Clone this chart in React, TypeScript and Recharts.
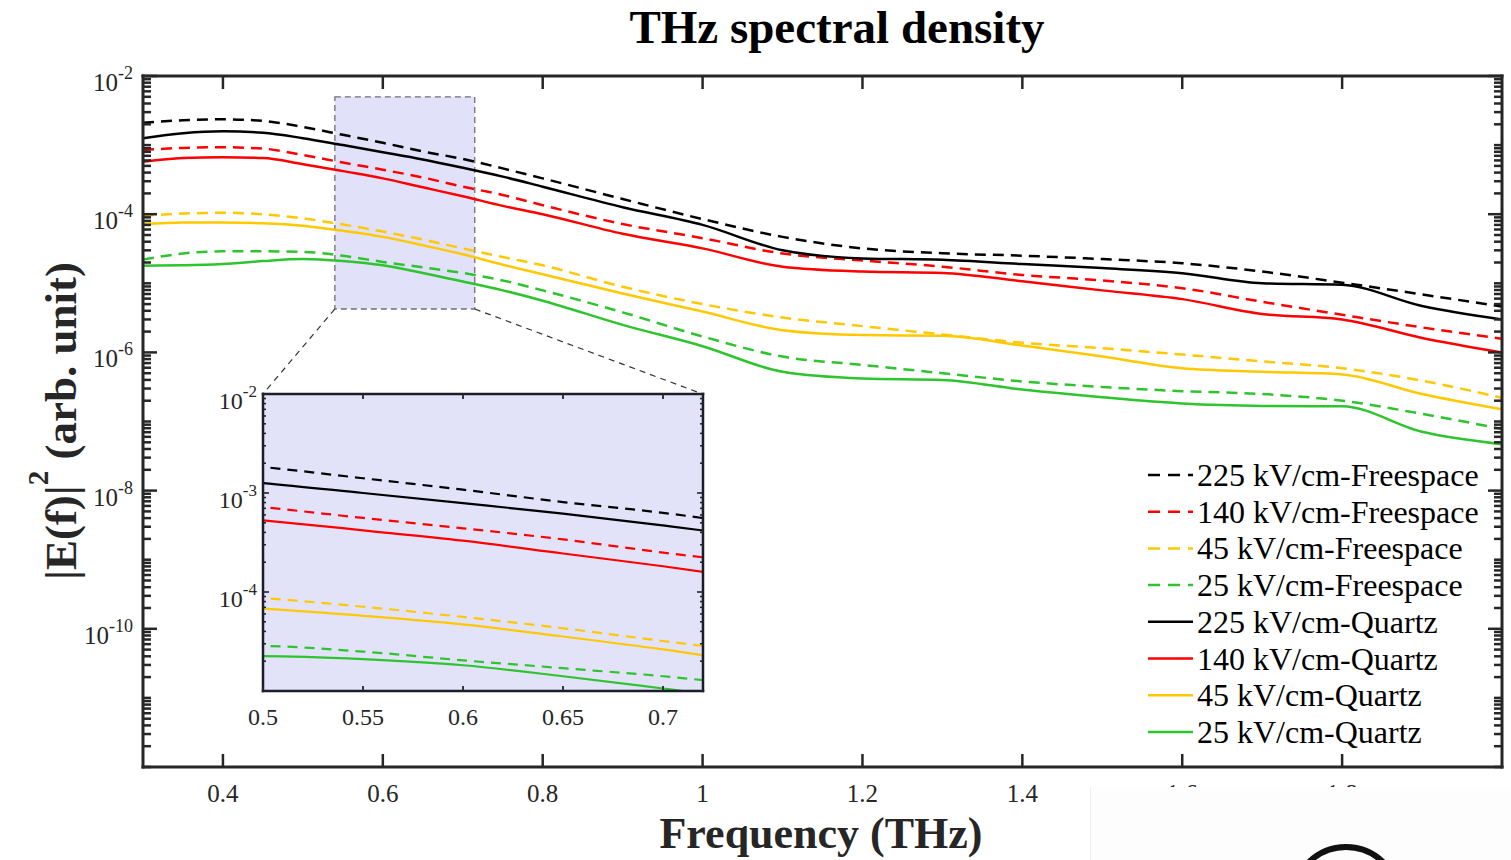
import React from "react";
import { LineChart, Line, XAxis, YAxis, ReferenceArea, ReferenceLine, Legend } from "recharts";

const SERIF = '"Liberation Serif", "Times New Roman", Times, serif';
const INK = "#262626";

// frequency grid (THz)
const freq = [0.3, 0.35, 0.4, 0.45, 0.5, 0.55, 0.6, 0.65, 0.7, 0.75, 0.8, 0.9, 1.0, 1.1, 1.2, 1.3, 1.4, 1.5, 1.6, 1.7, 1.8, 1.9, 2.0];

// |E(f)|^2
const free225 = [2.11e-3, 2.29e-3, 2.36e-3, 2.24e-3, 1.83e-3, 1.41e-3, 1.08e-3, 8.1e-4, 6.3e-4, 4.6e-4, 3.3e-4, 1.66e-4, 8.5e-5, 4.7e-5, 3.2e-5, 2.72e-5, 2.51e-5, 2.24e-5, 1.95e-5, 1.48e-5, 1.02e-5, 6.9e-6, 4.6e-6];
const free140 = [8.5e-4, 9.1e-4, 9.3e-4, 8.9e-4, 7.2e-4, 5.6e-4, 4.4e-4, 3.4e-4, 2.5e-4, 1.9e-4, 1.35e-4, 7.2e-5, 4.5e-5, 2.7e-5, 2.14e-5, 1.74e-5, 1.32e-5, 1.1e-5, 8.5e-6, 5.4e-6, 3.5e-6, 2.3e-6, 1.58e-6];
const free45 = [9.5e-5, 1.02e-4, 1.05e-4, 1.0e-4, 8.7e-5, 7.1e-5, 5.6e-5, 4.3e-5, 3.2e-5, 2.4e-5, 1.82e-5, 8.9e-6, 5.0e-6, 3.2e-6, 2.4e-6, 1.82e-6, 1.38e-6, 1.15e-6, 9.3e-7, 7.4e-7, 5.9e-7, 3.9e-7, 2.2e-7];
const free25 = [2.2e-5, 2.7e-5, 2.9e-5, 2.9e-5, 2.85e-5, 2.5e-5, 2.04e-5, 1.7e-5, 1.41e-5, 1.1e-5, 7.9e-6, 3.8e-6, 1.7e-6, 8.7e-7, 6.6e-7, 5.0e-7, 3.8e-7, 3.16e-7, 2.75e-7, 2.5e-7, 2.0e-7, 1.29e-7, 7.8e-8];
const quartz225 = [1.26e-3, 1.48e-3, 1.58e-3, 1.51e-3, 1.26e-3, 1.0e-3, 7.9e-4, 6.2e-4, 4.7e-4, 3.5e-4, 2.5e-4, 1.26e-4, 7.0e-5, 3.0e-5, 2.29e-5, 2.19e-5, 1.9e-5, 1.66e-5, 1.4e-5, 1.0e-5, 9.5e-6, 4.7e-6, 3.0e-6];
const quartz140 = [5.75e-4, 6.5e-4, 6.65e-4, 6.5e-4, 5.3e-4, 4.2e-4, 3.3e-4, 2.45e-4, 1.82e-4, 1.32e-4, 1.0e-4, 5.2e-5, 3.2e-5, 1.74e-5, 1.48e-5, 1.41e-5, 1.07e-5, 7.9e-6, 5.9e-6, 3.6e-6, 3.0e-6, 1.62e-6, 1.0e-6];
const quartz45 = [7.2e-5, 7.6e-5, 7.6e-5, 7.4e-5, 6.8e-5, 5.75e-5, 4.7e-5, 3.55e-5, 2.63e-5, 1.86e-5, 1.35e-5, 7.1e-6, 3.9e-6, 2.1e-6, 1.78e-6, 1.74e-6, 1.26e-6, 8.7e-7, 5.9e-7, 5.25e-7, 4.8e-7, 2.5e-7, 1.5e-7];
const quartz25 = [1.8e-5, 1.82e-5, 1.9e-5, 2.1e-5, 2.25e-5, 2.1e-5, 1.82e-5, 1.41e-5, 1.06e-5, 7.9e-6, 5.6e-6, 2.5e-6, 1.23e-6, 5.25e-7, 4.2e-7, 4.0e-7, 2.9e-7, 2.24e-7, 1.82e-7, 1.68e-7, 1.66e-7, 7.1e-8, 4.7e-8];

const series = [
  { key: "free225", name: "225 kV/cm-Freespace", color: "#000000", dashed: true, values: free225 },
  { key: "free140", name: "140 kV/cm-Freespace", color: "#ff0000", dashed: true, values: free140 },
  { key: "free45", name: "45 kV/cm-Freespace", color: "#ffc800", dashed: true, values: free45 },
  { key: "free25", name: "25 kV/cm-Freespace", color: "#2ec42e", dashed: true, values: free25 },
  { key: "quartz225", name: "225 kV/cm-Quartz", color: "#000000", dashed: false, values: quartz225 },
  { key: "quartz140", name: "140 kV/cm-Quartz", color: "#ff0000", dashed: false, values: quartz140 },
  { key: "quartz45", name: "45 kV/cm-Quartz", color: "#ffc800", dashed: false, values: quartz45 },
  { key: "quartz25", name: "25 kV/cm-Quartz", color: "#2ec42e", dashed: false, values: quartz25 },
];

const rows = freq.map((f, i) => {
  const r: Record<string, number> = { f };
  series.forEach((s) => {
    r[s.key] = s.values[i];
  });
  return r;
});

const mainXTicks = [0.4, 0.6, 0.8, 1, 1.2, 1.4, 1.6, 1.8];
const mainYLabelled = [1e-2, 1e-4, 1e-6, 1e-8, 1e-10];
const insetXTicks = [0.5, 0.55, 0.6, 0.65, 0.7];
const insetYLabelled = [1e-2, 1e-3, 1e-4];

// zoom box drawn on the main axes, and the inset corners it points to
const zoomBox = { x1: 0.54, x2: 0.715, y1: 4.25e-6, y2: 5e-3 };
const insetCorners = { left: 0.45, right: 1.0, y: 2.5e-7 };

// matlab style log ticks: 1..9 x 10^e
function logTicks(lo: number, hi: number) {
  const out: number[] = [];
  for (let e = lo; e < hi; e++) {
    for (let m = 1; m < 10; m++) out.push(Number(`${m}e${e}`));
  }
  out.push(Number(`1e${hi}`));
  return out;
}
const mainYTicks = logTicks(-12, -2);
const insetYTicks = logTicks(-5, -2);

const inList = (v: number, list: number[]) => list.some((t) => Math.abs(v / t - 1) < 1e-6);
const expOf = (v: number) => String(Math.round(Math.log10(v)));

type TickOpts = { major: number; minor?: number; w: number; size?: number; sup?: number; labelled?: number[]; off?: number };

const bottomTick = (o: TickOpts) => (p: any) => (
  <g>
    <line x1={p.x} x2={p.x} y1={p.y} y2={p.y - o.major} stroke={INK} strokeWidth={o.w} />
    <text x={p.x} y={p.y + (o.off || 0)} textAnchor="middle" fontSize={o.size} fontFamily={SERIF} fill={INK}>
      {String(p.payload.value)}
    </text>
  </g>
);

const topTick = (o: TickOpts) => (p: any) => (
  <line x1={p.x} x2={p.x} y1={p.y} y2={p.y + o.major} stroke={INK} strokeWidth={o.w} />
);

const leftTick = (o: TickOpts) => (p: any) => {
  const lab = inList(p.payload.value, o.labelled || []);
  return (
    <g>
      <line x1={p.x} x2={p.x + (lab ? o.major : o.minor || 0)} y1={p.y} y2={p.y} stroke={INK} strokeWidth={o.w} />
      {lab && (
        <text x={p.x - (o.off || 0)} y={p.y + 15} textAnchor="end" fontSize={o.size} fontFamily={SERIF} fill={INK}>
          10
          <tspan dy={-12} fontSize={o.sup}>
            {expOf(p.payload.value)}
          </tspan>
        </text>
      )}
    </g>
  );
};

const rightTick = (o: TickOpts) => (p: any) => {
  const lab = inList(p.payload.value, o.labelled || []);
  return <line x1={p.x} x2={p.x - (lab ? o.major : o.minor || 0)} y1={p.y} y2={p.y} stroke={INK} strokeWidth={o.w} />;
};

const frame = { stroke: INK, strokeWidth: 3, strokeLinecap: "square" as const };
const insetFrame = { stroke: "#1c1c2c", strokeWidth: 2.5, strokeLinecap: "square" as const };

const LegendBox = () => (
  <svg width={370} height={300} style={{ display: "block" }}>
    {series.map((s, i) => {
      const cy = 22 + i * 36.7;
      return (
        <g key={s.key}>
          <line x1={8} x2={53} y1={cy} y2={cy} stroke={s.color} strokeWidth={2.5} strokeDasharray={s.dashed ? "12 8" : undefined} />
          <text x={57} y={cy + 11} fontSize={32} fontFamily={SERIF} fill="#000">
            {s.name}
          </text>
        </g>
      );
    })}
  </svg>
);

export default function App() {
  return (
    <div style={{ position: "absolute", left: 0, top: 0, width: 1511, height: 860, background: "#fff", overflow: "hidden" }}>
      <LineChart width={1511} height={860} data={rows} margin={{ top: 0, right: 0, bottom: 0, left: 0 }} style={{ fontFamily: SERIF }}>
        <XAxis
          dataKey="f"
          type="number"
          domain={[0.3, 2.0]}
          allowDataOverflow
          ticks={mainXTicks}
          interval={0}
          height={93}
          tickSize={0}
          tickMargin={0}
          axisLine={frame}
          tickLine={false}
          tick={bottomTick({ major: 13, w: 2.5, size: 25, off: 35 })}
          label={() => (
            <text x={821} y={848} textAnchor="middle" fontSize={44} fontWeight="bold" fontFamily={SERIF} fill={INK}>
              Frequency (THz)
            </text>
          )}
        />
        <XAxis
          xAxisId="top"
          orientation="top"
          dataKey="f"
          type="number"
          domain={[0.3, 2.0]}
          allowDataOverflow
          ticks={mainXTicks}
          interval={0}
          height={76}
          tickSize={0}
          tickMargin={0}
          axisLine={frame}
          tickLine={false}
          tick={topTick({ major: 13, w: 2.5 })}
          label={() => (
            <text x={837} y={43} textAnchor="middle" fontSize={47} fontWeight="bold" fontFamily={SERIF} fill="#000">
              THz spectral density
            </text>
          )}
        />
        <YAxis
          type="number"
          scale="log"
          domain={[1e-12, 1e-2]}
          allowDataOverflow
          ticks={mainYTicks}
          interval={0}
          width={143}
          tickSize={0}
          tickMargin={0}
          axisLine={frame}
          tickLine={false}
          tick={leftTick({ major: 14, minor: 8, w: 2.5, size: 25, sup: 18, labelled: mainYLabelled, off: 10 })}
          label={() => (
            <text x={76} y={421} transform="rotate(-90 76 421)" textAnchor="middle" fontSize={45} fontWeight="bold" fontFamily={SERIF} fill={INK}>
              |E(f)|
              <tspan dy={-28} fontSize={29}>
                2
              </tspan>
              <tspan dy={28}> (arb. unit)</tspan>
            </text>
          )}
        />
        <YAxis
          yAxisId="right"
          orientation="right"
          type="number"
          scale="log"
          domain={[1e-12, 1e-2]}
          allowDataOverflow
          ticks={mainYTicks}
          interval={0}
          width={9}
          tickSize={0}
          tickMargin={0}
          axisLine={frame}
          tickLine={false}
          tick={rightTick({ major: 14, minor: 8, w: 2.5, labelled: mainYLabelled })}
        />
        <ReferenceArea
          x1={zoomBox.x1}
          x2={zoomBox.x2}
          y1={zoomBox.y1}
          y2={zoomBox.y2}
          fill="#e1e1fa"
          fillOpacity={1}
          stroke="#707070"
          strokeWidth={1.3}
          strokeDasharray="6 4"
        />
        <ReferenceLine
          segment={[
            { x: zoomBox.x1, y: zoomBox.y1 },
            { x: insetCorners.left, y: insetCorners.y },
          ]}
          stroke="#333"
          strokeWidth={1.2}
          strokeDasharray="6 5"
        />
        <ReferenceLine
          segment={[
            { x: zoomBox.x2, y: zoomBox.y1 },
            { x: insetCorners.right, y: insetCorners.y },
          ]}
          stroke="#333"
          strokeWidth={1.2}
          strokeDasharray="6 5"
        />
        {series.map((s) => (
          <Line
            key={s.key}
            type="monotone"
            dataKey={s.key}
            name={s.name}
            stroke={s.color}
            strokeWidth={2.5}
            strokeDasharray={s.dashed ? "11 7" : undefined}
            dot={false}
            activeDot={false}
            isAnimationActive={false}
          />
        ))}
        <Legend
          layout="vertical"
          align="center"
          verticalAlign="middle"
          wrapperStyle={{ position: "absolute", left: 1140, top: 453, width: 370, height: 300 }}
          content={() => <LegendBox />}
        />
      </LineChart>

      {/* inset */}
      <div style={{ position: "absolute", left: 200, top: 380 }}>
        <LineChart width={520} height={360} data={rows} margin={{ top: 13, right: 16, bottom: 0, left: 0 }} style={{ fontFamily: SERIF }}>
          <XAxis
            dataKey="f"
            type="number"
            domain={[0.5, 0.72]}
            allowDataOverflow
            ticks={insetXTicks}
            interval={0}
            height={49}
            tickSize={0}
            tickMargin={0}
            axisLine={insetFrame}
            tickLine={false}
            tick={bottomTick({ major: 5, w: 1.8, size: 24, off: 34 })}
          />
          <XAxis
            xAxisId="top"
            orientation="top"
            dataKey="f"
            type="number"
            domain={[0.5, 0.72]}
            allowDataOverflow
            ticks={insetXTicks}
            interval={0}
            height={1}
            tickSize={0}
            tickMargin={0}
            axisLine={insetFrame}
            tickLine={false}
            tick={topTick({ major: 5, w: 1.8 })}
          />
          <YAxis
            type="number"
            scale="log"
            domain={[1e-5, 1e-2]}
            allowDataOverflow
            ticks={insetYTicks}
            interval={0}
            width={63}
            tickSize={0}
            tickMargin={0}
            axisLine={insetFrame}
            tickLine={false}
            tick={leftTick({ major: 6, minor: 3, w: 1.6, size: 24, sup: 17, labelled: insetYLabelled, off: 6 })}
          />
          <YAxis
            yAxisId="right"
            orientation="right"
            type="number"
            scale="log"
            domain={[1e-5, 1e-2]}
            allowDataOverflow
            ticks={insetYTicks}
            interval={0}
            width={1}
            tickSize={0}
            tickMargin={0}
            axisLine={insetFrame}
            tickLine={false}
            tick={rightTick({ major: 6, minor: 3, w: 1.6, labelled: insetYLabelled })}
          />
          <ReferenceArea x1={0.5} x2={0.72} y1={1e-5} y2={1e-2} fill="#e2e2f9" fillOpacity={1} stroke="none" />
          {series.map((s) => (
            <Line
              key={s.key}
              type="monotone"
              dataKey={s.key}
              stroke={s.color}
              strokeWidth={2.2}
              strokeDasharray={s.dashed ? "10 7" : undefined}
              dot={false}
              activeDot={false}
              isAnimationActive={false}
            />
          ))}
        </LineChart>
      </div>

      {/* pasted-over corner of the source image */}
      <div style={{ position: "absolute", left: 1090, top: 787, width: 421, height: 73, background: "#fdfdfd", borderLeft: "1px solid #f0f0f0" }}>
        <svg width={421} height={73} style={{ display: "block" }}>
          <circle cx={255} cy={113} r={53} fill="none" stroke="#111" strokeWidth={6} />
        </svg>
      </div>
    </div>
  );
}
